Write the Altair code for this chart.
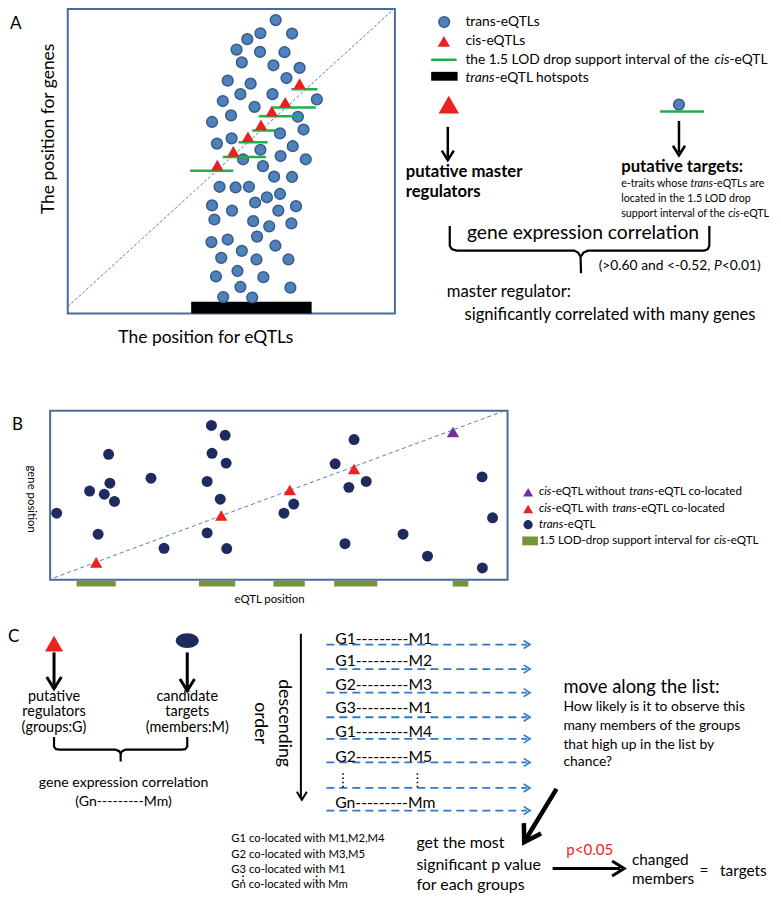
import os
import glob
import struct
import altair as alt
import pandas as pd

FONT = "Lato"
W, H = 765, 889
REF_W, REF_H = 781, 905
SXF = W / REF_W  # reference px -> rendered px

# ---------------- Panel A ----------------
A_TRANS_X = [273.3, 257.7, 290, 244.3, 233.3, 257.3, 282.3, 238.7, 271, 297.7, 224.3, 247.7, 284.3,
             237.3, 270, 219.3, 251.7, 315.3, 227.7, 208.3, 296, 301.7, 277.7, 213.3, 228.3, 290.7,
             257.7, 278.3, 240, 304, 260.3, 271.7, 290, 216, 232.3, 246, 264.3, 277.7, 208.3, 228.7,
             252.3, 276, 294, 210.7, 250.3, 266.7, 289.3, 207.7, 224.3, 254.3, 273, 238.7, 217.7,
             253.7, 286.3, 234.3, 212.3, 260.7, 237.3, 288.3, 219.7, 249.3]
A_TRANS_Y = [12.3, 25.7, 26, 31.7, 42.3, 44.7, 45, 55.3, 58.3, 61, 74, 77, 71.3,
             87.7, 87.7, 94.7, 100.7, 93, 109.3, 116, 110.7, 123.7, 127.7, 138, 132.7, 140.7,
             144.3, 150.7, 154, 154, 161, 171.7, 172, 182, 182.7, 182, 192.7, 189.3, 201, 206.3,
             198, 206.3, 201.7, 215.3, 217, 222.3, 219.3, 238.3, 235.7, 232.7, 242, 247.3, 254.3,
             256, 256, 267.7, 273.3, 274, 284, 284.7, 294.3, 294.7]
A_CIS_X = [297.7, 283, 269.3, 258.3, 245, 230, 213.7]
A_CIS_Y = [77, 96, 105, 119, 131, 146, 160]
A_LOD_X1 = [289.3, 270, 256, 249.3, 235.3, 219.3, 186]
A_LOD_X2 = [316, 314.3, 300, 273.3, 265, 263.3, 230]
A_LOD_Y = [82.7, 101.3, 110.3, 124.7, 136.7, 151.7, 165.7]

# ---------------- Panel B ----------------
B_TRANS_X = [207.7, 221.7, 353.3, 102.7, 208.3, 222.7, 334, 146, 203.3, 104, 365.7, 484, 348,
             83.3, 98.3, 108.7, 216.7, 291.7, 49.7, 281.7, 494.7, 92, 203.3, 403.3, 344, 159.3,
             223.3, 428.3, 484.3]
B_TRANS_Y = [425, 435, 439.3, 454.3, 453.3, 463.3, 464, 478.7, 482, 483.7, 482, 477.3, 488,
             491.7, 495, 502.3, 500, 505, 514.3, 514.3, 519, 535.7, 534.3, 535.7, 545.3, 550,
             550.3, 558, 570]
B_CIS_X = [90, 217.7, 287.7, 353.3]
B_CIS_Y = [564.3, 516.7, 490.7, 469.3]
B_CIS_ALONE_X = [454.3]
B_CIS_ALONE_Y = [431.7]
B_LOD_X1 = [70, 195, 271, 333, 454]
B_LOD_X2 = [110, 232, 303, 377, 470]

# ---------------- Panel C ----------------
C_ROWS = ["G1---------M1", "G1---------M2", "G2---------M3", "G3---------M1",
          "G1---------M4", "G2---------M5", "Gn---------Mm"]
C_ROW_Y = [642, 665, 689, 713, 737, 762, 809]
C_ARROW_Y = [648, 673, 697, 722, 744, 768, 794, 817]
C_COLOC = ["G1 co-located with M1,M2,M4", "G2 co-located with M3,M5",
           "G3 co-located with M1", "Gn co-located with Mm"]
C_COLOC_Y = [846, 862, 878, 893]

BLUE_A = "#4f81bd"
RED = "#e8221f"
GREEN = "#1fb04a"
NAVY = "#1f2b5e"
PURPLE = "#7030a0"
OLIVE = "#77933c"
BOXC = "#4a6b9a"
DASHBLUE = "#2e78c8"


# ---------------- font metrics (for placing mixed-style text) ----------------
def _find_font(name):
    roots = ["/usr/share/fonts", "/usr/local/share/fonts",
             os.path.expanduser("~/.fonts"), os.path.expanduser("~/.local/share/fonts")]
    for r in roots:
        hits = glob.glob(os.path.join(r, "**", name), recursive=True)
        if hits:
            return hits[0]
    return None


def _fallback(s):
    return 0.5 * len(s)


def _loader(name):
    path = _find_font(name)
    if not path:
        return _fallback
    try:
        with open(path, "rb") as f:
            data = f.read()
        ntab = struct.unpack(">H", data[4:6])[0]
        tabs = {}
        for i in range(ntab):
            tag, _cs, off, ln = struct.unpack(">4sIII", data[12 + 16 * i:28 + 16 * i])
            tabs[tag.decode("latin1")] = off
        upm = struct.unpack(">H", data[tabs["head"] + 18:tabs["head"] + 20])[0]
        nhm = struct.unpack(">H", data[tabs["hhea"] + 34:tabs["hhea"] + 36])[0]
        ho = tabs["hmtx"]
        adv = [struct.unpack(">H", data[ho + 4 * i:ho + 4 * i + 2])[0] for i in range(nhm)]
        co = tabs["cmap"]
        n = struct.unpack(">H", data[co + 2:co + 4])[0]
        sub = None
        for i in range(n):
            pid, eid, so = struct.unpack(">HHI", data[co + 4 + 8 * i:co + 12 + 8 * i])
            fmt = struct.unpack(">H", data[co + so:co + so + 2])[0]
            if fmt == 4 and pid in (0, 3):
                sub = co + so
                break
        if sub is None:
            return _fallback
        seg2 = struct.unpack(">H", data[sub + 6:sub + 8])[0]
        segc = seg2 // 2
        ends = struct.unpack(">%dH" % segc, data[sub + 14:sub + 14 + seg2])
        so_ = sub + 16 + seg2
        starts = struct.unpack(">%dH" % segc, data[so_:so_ + seg2])
        do_ = so_ + seg2
        deltas = struct.unpack(">%dh" % segc, data[do_:do_ + seg2])
        ro_ = do_ + seg2
        ros = struct.unpack(">%dH" % segc, data[ro_:ro_ + seg2])

        def gid(ch):
            c = ord(ch)
            for i in range(segc):
                if ends[i] >= c:
                    if starts[i] > c:
                        return 0
                    if ros[i] == 0:
                        return (c + deltas[i]) & 0xFFFF
                    addr = ro_ + 2 * i + ros[i] + 2 * (c - starts[i])
                    g = struct.unpack(">H", data[addr:addr + 2])[0]
                    return (g + deltas[i]) & 0xFFFF if g else 0
            return 0

        def width(s):
            return sum(adv[min(gid(ch), nhm - 1)] for ch in s) / upm

        if width("abc") <= 0:
            return _fallback
        return width
    except Exception:
        return _fallback


WID = {"n": _loader("Lato-Regular.ttf"), "i": _loader("Lato-Italic.ttf"), "b": _loader("Lato-Bold.ttf")}


def fit(text, ref_width, style="n"):
    """font size (px) so that text spans ref_width reference pixels"""
    return round(ref_width * SXF / WID[style](text), 2)


# ---------------- scales ----------------
SX = alt.Scale(domain=[0, REF_W], nice=False, zero=False)
SY = alt.Scale(domain=[0, REF_H], reverse=True, nice=False, zero=False)


def ex(f="x"):
    return alt.X(f"{f}:Q", scale=SX, axis=None)


def ey(f="y"):
    return alt.Y(f"{f}:Q", scale=SY, axis=None)


layers = []

# ---- box outlines
boxes = pd.DataFrame({"x": [61, 43], "y": [1, 410], "x2": [395, 510], "y2": [311, 582]})
layers.append(alt.Chart(boxes).mark_rect(fillOpacity=0, stroke=BOXC, strokeWidth=2).encode(
    x=ex(), y=ey(), x2="x2:Q", y2="y2:Q"))

# ---- filled rectangles
rx, ry, rx2, ry2, rc = [187, 432], [299, 65], [310, 459], [311, 74], ["black", "black"]
for a, b in zip(B_LOD_X1, B_LOD_X2):
    rx.append(a); rx2.append(b); ry.append(583); ry2.append(589); rc.append(OLIVE)
rx.append(525); rx2.append(541); ry.append(538); ry2.append(547); rc.append(OLIVE)
frect = pd.DataFrame({"x": rx, "y": ry, "x2": rx2, "y2": ry2, "c": rc})
layers.append(alt.Chart(frect).mark_rect().encode(
    x=ex(), y=ey(), x2="x2:Q", y2="y2:Q", color=alt.Color("c:N", scale=None)))

# ---- dashed diagonals
diagA = pd.DataFrame({"x": [61], "y": [304], "x2": [395], "y2": [0]})
layers.append(alt.Chart(diagA).mark_rule(color=BLUE_A, strokeWidth=1, strokeDash=[3, 2]).encode(
    x=ex(), y=ey(), x2="x2:Q", y2="y2:Q"))
diagB = pd.DataFrame({"x": [47], "y": [580], "x2": [507], "y2": [410]})
layers.append(alt.Chart(diagB).mark_rule(color=BLUE_A, strokeWidth=1, strokeDash=[4, 3]).encode(
    x=ex(), y=ey(), x2="x2:Q", y2="y2:Q"))

# ---- dashed blue list arrows
dl = pd.DataFrame({"x": [325] * len(C_ARROW_Y), "x2": [530] * len(C_ARROW_Y),
                   "y": C_ARROW_Y, "y2": C_ARROW_Y})
layers.append(alt.Chart(dl).mark_rule(color=DASHBLUE, strokeWidth=1.8, strokeDash=[8, 5]).encode(
    x=ex(), y=ey(), x2="x2:Q", y2="y2:Q"))

# ---- dotted vertical ellipses
dots = pd.DataFrame({"x": [342, 418, 240, 315], "x2": [342, 418, 240, 315],
                     "y": [779, 779, 883, 883], "y2": [794, 794, 891, 891]})
layers.append(alt.Chart(dots).mark_rule(color="black", strokeWidth=1.6, strokeDash=[1.6, 2.6]).encode(
    x=ex(), y=ey(), x2="x2:Q", y2="y2:Q"))

# ---- trans-eQTL circles in A
ca = pd.DataFrame({"x": A_TRANS_X + [445.3, 685], "y": A_TRANS_Y + [14.3, 98.3]})
layers.append(alt.Chart(ca).mark_point(shape="circle", filled=True, opacity=1, fill=BLUE_A,
                                       stroke="#385d8a", strokeWidth=1.5, size=115).encode(
    x=ex(), y=ey()))

# ---- solid segments
sx, sy, sx2, sy2, sc, sw = [], [], [], [], [], []
for a, b, yy in zip(A_LOD_X1, A_LOD_X2, A_LOD_Y):
    sx.append(a); sx2.append(b); sy.append(yy); sy2.append(yy); sc.append(GREEN); sw.append(2.5)
for a, b, yy in [(432, 458, 52.7), (665.7, 710.7, 105.3)]:
    sx.append(a); sx2.append(b); sy.append(yy); sy2.append(yy); sc.append(GREEN); sw.append(2.5)
shafts = [(449, 121, 449, 152, 2.5), (685, 115, 685, 147, 2.5), (47, 656, 47, 690, 3),
          (183, 656, 183, 692, 3), (299, 637, 299, 804, 2), (560, 795, 528.5, 846.5, 4.5),
          (556, 876, 625, 876, 3)]
for a, b, c, d, w in shafts:
    sx.append(a); sy.append(b); sx2.append(c); sy2.append(d); sc.append("black"); sw.append(w)
seg = pd.DataFrame({"x": sx, "y": sy, "x2": sx2, "y2": sy2, "c": sc, "w": sw})
layers.append(alt.Chart(seg).mark_rule().encode(
    x=ex(), y=ey(), x2="x2:Q", y2="y2:Q", color=alt.Color("c:N", scale=None),
    size=alt.Size("w:Q", scale=None)))

# ---- braces
brace_pts = {
    "aL": [(451, 222), (451, 242), (453, 245.5), (458, 247), (578, 247), (582, 249), (584.5, 253), (585, 270)],
    "aR": [(585, 253), (587.5, 249), (592, 247), (711, 247), (714.5, 245.5), (716, 242), (716, 222)],
    "cL": [(47, 742), (47, 752), (49, 754.5), (53, 755), (110, 755), (113.5, 756.5), (115, 759), (115, 767)],
    "cR": [(115, 759), (116.5, 756.5), (120, 755), (177, 755), (181, 754.5), (183, 752), (183, 742)],
}
bx, by, bg, bo = [], [], [], []
for g, pts in brace_pts.items():
    for i, (px, py) in enumerate(pts):
        bx.append(px); by.append(py); bg.append(g); bo.append(i)
br = pd.DataFrame({"x": bx, "y": by, "g": bg, "o": bo})
layers.append(alt.Chart(br).mark_line(color="black", strokeWidth=2.2).encode(
    x=ex(), y=ey(), detail="g:N", order="o:Q"))

# ---- B circles
cb = pd.DataFrame({"x": B_TRANS_X, "y": B_TRANS_Y})
layers.append(alt.Chart(cb).mark_point(shape="circle", filled=True, opacity=1, fill=NAVY,
                                       size=120, strokeWidth=0).encode(x=ex(), y=ey()))
cbl = pd.DataFrame({"x": [531], "y": [526]})
layers.append(alt.Chart(cbl).mark_point(shape="circle", filled=True, opacity=1, fill=NAVY,
                                        size=85, strokeWidth=0).encode(x=ex(), y=ey()))
ell = pd.DataFrame({"x": [183], "y": [644]})
layers.append(alt.Chart(ell).mark_point(
    shape="M-1,0A1,0.65,0,1,1,1,0A1,0.65,0,1,1,-1,0Z", filled=True, opacity=1, fill=NAVY,
    size=530, strokeWidth=0).encode(x=ex(), y=ey()))

# ---- triangles
tx = A_CIS_X + [445, 450] + B_CIS_X + [531, 47] + B_CIS_ALONE_X + [531]
ty = A_CIS_Y + [34, 98.3] + B_CIS_Y + [510, 647] + B_CIS_ALONE_Y + [493]
tc = [RED] * len(A_CIS_X) + [RED, RED] + [RED] * len(B_CIS_X) + [RED, RED] + [PURPLE, PURPLE]
ts = [150] * len(A_CIS_X) + [150, 420] + [150] * len(B_CIS_X) + [100, 330] + [150, 100]
tri = pd.DataFrame({"x": tx, "y": ty, "c": tc, "s": ts})
layers.append(alt.Chart(tri).mark_point(shape="triangle-up", filled=True, opacity=1, strokeWidth=0).encode(
    x=ex(), y=ey(), fill=alt.Fill("c:N", scale=None), size=alt.Size("s:Q", scale=None)))

# ---- arrow heads (chevrons)
CHEV = "M-1,-1.6L0,0L1,-1.6"
hx = [449, 685, 47, 183, 300, 527, 629] + [533] * len(C_ARROW_Y)
hy = [155, 150, 693, 695, 806, 849, 876] + C_ARROW_Y
ha = [0, 0, 0, 0, 0, 31, 270] + [270] * len(C_ARROW_Y)
hs = [144, 144, 213, 213, 100, 400, 225] + [64] * len(C_ARROW_Y)
hw = [2.5, 2.5, 3, 3, 2, 4.5, 3] + [1.6] * len(C_ARROW_Y)
hc = ["black"] * 7 + [DASHBLUE] * len(C_ARROW_Y)
heads = pd.DataFrame({"x": hx, "y": hy, "a": ha, "s": hs, "w": hw, "c": hc})
layers.append(alt.Chart(heads).mark_point(shape=CHEV, filled=False, opacity=1, strokeJoin="miter").encode(
    x=ex(), y=ey(), angle=alt.Angle("a:Q", scale=None), size=alt.Size("s:Q", scale=None),
    strokeWidth=alt.StrokeWidth("w:Q", scale=None), stroke=alt.Stroke("c:N", scale=None)))

# ---------------- texts ----------------
rows = {"n": [], "i": [], "b": []}   # left aligned: (x, y, text, size, color)
center_rows = []                     # (x, y, text, size, angle)


def put(x, y, text, size, style="n", color="black"):
    rows[style].append((x, y, text, size, color))


def put_line(x, y, size, segs):
    """segments [(text, style)] placed one after another"""
    cur = x
    for text, st in segs:
        put(cur, y, text.strip(), size, st)
        cur += WID[st](text) * size / SXF


# Panel letters
put(2, 16, "A", 17)
put(4, 424, "B", 17)
put(0, 640, "C", 17)

# Legend A
sA = fit("the 1.5 LOD drop support interval of the cis-eQTL", 310)
put(467, 14, "trans-eQTLs", sA)
put(467, 34, "cis-eQTLs", sA)
put_line(467, 53, sA, [("the 1.5 LOD drop support interval of the ", "n"), ("cis", "i"), ("-eQTL", "n")])
put_line(467, 71, sA, [("trans", "i"), ("-eQTL hotspots", "n")])

# bold headers
sB = fit("putative targets:", 125, "b")
put(406, 167, "putative master", sB, "b")
put(406, 187, "regulators", sB, "b")
put(626, 162, "putative targets:", sB, "b")

# small explanatory text
sS = fit("support interval of the cis-eQTL", 152)
put_line(626, 179, sS, [("e-traits whose ", "n"), ("trans", "i"), ("-eQTLs are", "n")])
put(626, 194, "located in the 1.5 LOD drop", sS)
put_line(626, 210, sS, [("support interval of the ", "n"), ("cis", "i"), ("-eQTL", "n")])

sP = fit("(>0.60 and <-0.52, P<0.01)", 166)
put_line(603, 263, sP, [("(>0.60 and <-0.52, ", "n"), ("P", "i"), ("<0.01)", "n")])

sM = fit("significantly correlated with many genes", 300)
put(448, 289, "master regulator:", sM)
put(466, 313, "significantly correlated with many genes", sM)

sT = fit("The position for eQTLs", 180)
center_rows.append((42, 123, "The position for genes", sT, 270))
center_rows.append((202, 336, "The position for eQTLs", sT, 0))
center_rows.append((587, 229, "gene expression correlation", fit("gene expression correlation", 238), 0))

# Panel B
sBx = fit("eQTL position", 72)
center_rows.append((23, 500, "gene position", sBx, 90))
center_rows.append((267, 603, "eQTL position", sBx, 0))
sL = fit("cis-eQTL without trans-eQTL co-located", 210)
put_line(542, 493, sL, [("cis", "i"), ("-eQTL without ", "n"), ("trans", "i"), ("-eQTL co-located", "n")])
put_line(542, 510, sL, [("cis", "i"), ("-eQTL with ", "n"), ("trans", "i"), ("-eQTL co-located", "n")])
put_line(542, 526, sL, [("trans", "i"), ("-eQTL", "n")])
put_line(542, 543, sL, [("1.5 LOD-drop support interval for ", "n"), ("cis", "i"), ("-eQTL", "n")])

# Panel C
sC = fit("(members:M)", 85)
for txt, yy in zip(["putative", "regulators", "(groups:G)"], [701, 717, 733]):
    center_rows.append((47, yy, txt, sC, 0))
for txt, yy in zip(["candidate", "targets", "(members:M)"], [701, 717, 733]):
    center_rows.append((183, yy, txt, sC, 0))
sG = fit("gene expression correlation", 174)
center_rows.append((118, 789, "gene expression correlation", sG, 0))
center_rows.append((118, 808, "(Gn---------Mm)", sG, 0))
sD = fit("descending", 90)
center_rows.append((282, 728, "descending", sD, 90))
center_rows.append((257, 728, "order", sD, 90))

sR = fit("G1---------M1", 99)
for t, yy in zip(C_ROWS, C_ROW_Y):
    put(334, yy, t, sR)
sCo = fit("G1 co-located with M1,M2,M4", 157)
for t, yy in zip(C_COLOC, C_COLOC_Y):
    put(228, yy, t, sCo)

put(567, 691, "move along the list:", fit("move along the list:", 160))
sH = fit("How likely is it to observe this", 187)
for t, yy in zip(["How likely is it to observe this", "many members of the groups",
                  "that high up in the list by", "chance?"], [712, 731, 750, 768]):
    put(567, yy, t, sH)
sGm = fit("significant p value", 128)
for t, yy in zip(["get the most", "significant p value", "for each groups"], [850, 872, 893]):
    put(417, yy, t, sGm)
put(570, 857, "p<0.05", fit("p<0.05", 48), color="#f01e1e")
sCh = fit("targets", 48)
put(637, 867, "changed", sCh)
put(637, 887, "members", sCh)
put(706, 879, "=", sCh)
put(727, 879, "targets", sCh)


def text_layer(data, cols, align="left", **kw):
    df = pd.DataFrame(data, columns=cols)
    enc = dict(x=ex(), y=ey(), text="t:N", size=alt.Size("s:Q", scale=None))
    if "c" in cols:
        enc["color"] = alt.Color("c:N", scale=None)
    if "a" in cols:
        enc["angle"] = alt.Angle("a:Q", scale=None)
    mk = dict(font=FONT, baseline="middle", align=align)
    if "c" not in cols:
        mk["color"] = "black"
    mk.update(kw)
    return alt.Chart(df).mark_text(**mk).encode(**enc)


cols = ["x", "y", "t", "s", "c"]
layers.append(text_layer(rows["n"], cols))
layers.append(text_layer(rows["i"], cols, fontStyle="italic"))
layers.append(text_layer(rows["b"], cols, fontWeight="bold"))
layers.append(text_layer(center_rows, ["x", "y", "t", "s", "a"], align="center"))

chart = alt.layer(*layers).properties(
    width=W, height=H, padding=0, autosize=alt.AutoSizeParams(type="none")
).configure_view(strokeWidth=0)

chart.save("out.html", embed_options={"renderer": "svg", "actions": False})
